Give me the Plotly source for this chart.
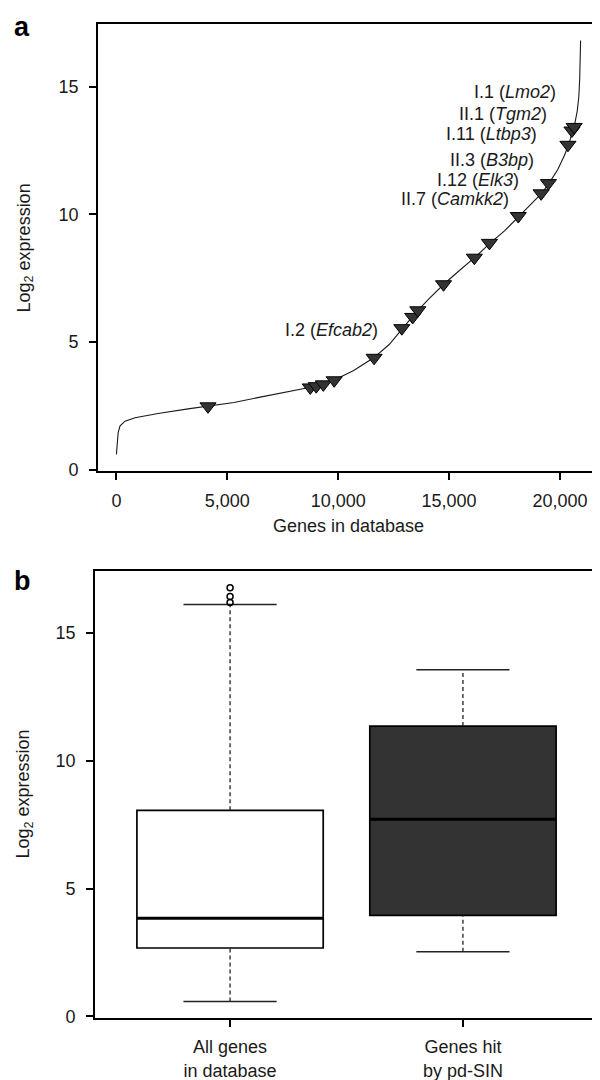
import plotly.graph_objects as go

# ---------------- Panel a: genes ranked by expression ----------------
curve_rank = [1, 30, 80, 165, 390, 840, 1880, 3230, 4130, 5300, 6370, 7500, 8700,
              9800, 10700, 11600, 12300, 12900, 13500, 14100, 14750, 15400, 16150,
              16850, 17500, 18150, 18700, 19150, 19500, 19900, 20200, 20400, 20550,
              20680, 20780, 20850, 20890, 20915, 20930]
curve_expr = [0.6, 1.1, 1.45, 1.72, 1.9, 2.03, 2.2, 2.38, 2.48, 2.63, 2.82, 3.0, 3.22,
              3.5, 3.88, 4.38, 4.9, 5.52, 6.15, 6.7, 7.25, 7.75, 8.3,
              8.87, 9.35, 9.92, 10.4, 10.8, 11.2, 11.75, 12.3, 12.75, 13.2,
              13.6, 14.05, 14.6, 15.3, 16.0, 16.8]

hit_rank = [4130, 8740, 9010, 9330, 9820, 11620, 12870, 13360, 13590, 14750, 16140,
            16820, 18120, 19150, 19480, 20360, 20540, 20640]
hit_expr = [2.48, 3.22, 3.27, 3.34, 3.5, 4.38, 5.54, 5.98, 6.24, 7.26, 8.3,
            8.88, 9.93, 10.82, 11.22, 12.72, 13.28, 13.42]

gene_labels = ["I.1 (<i>Lmo2</i>)", "II.1 (<i>Tgm2</i>)", "I.11 (<i>Ltbp3</i>)",
               "II.3 (<i>B3bp</i>)", "I.12 (<i>Elk3</i>)", "II.7 (<i>Camkk2</i>)",
               "I.2 (<i>Efcab2</i>)"]
label_rank = [19910, 19507, 19058, 18924, 18251, 17803, 11883]
label_expr = [14.77, 13.91, 13.14, 12.13, 11.36, 10.58, 5.47]

x_ticks_a = [0, 5000, 10000, 15000, 20000]
y_ticks = [0, 5, 10, 15]

# ---------------- Panel b: box plots ----------------
box_names = ["All genes<br>in database", "Genes hit<br>by pd-SIN"]
box_pos = [1, 2]
box_low = [0.58, 2.52]
box_q1 = [2.67, 3.95]
box_med = [3.84, 7.71]
box_q3 = [8.06, 11.36]
box_high = [16.12, 13.57]
box_fill = ["white", "#333333"]
outlier_y = [16.2, 16.43, 16.78]

FONT = "Liberation Sans, Arial, Helvetica, sans-serif"
TXT = "#1a1a1a"
BOX_W = 0.8
CAP_W = 0.4

fig = go.Figure()

# Panel a traces
fig.add_trace(go.Scatter(x=curve_rank, y=curve_expr, mode="lines",
                         line=dict(color="#1a1a1a", width=1.1),
                         xaxis="x", yaxis="y", hoverinfo="skip"))
fig.add_trace(go.Scatter(x=hit_rank, y=hit_expr, mode="markers",
                         marker=dict(symbol="triangle-down", size=14, color="#333333",
                                     line=dict(color="black", width=1)),
                         xaxis="x", yaxis="y"))

# Panel b traces
for i, p in enumerate(box_pos):
    fig.add_trace(go.Box(x=[p], q1=[box_q1[i]], median=[box_med[i]], q3=[box_q3[i]],
                         lowerfence=[box_q1[i]], upperfence=[box_q3[i]],
                         width=BOX_W, whiskerwidth=0, boxpoints=False,
                         fillcolor=box_fill[i], line=dict(color="black", width=1.7),
                         xaxis="x2", yaxis="y2", hoverinfo="skip"))
    # thick median
    fig.add_trace(go.Scatter(x=[p - BOX_W / 2, p + BOX_W / 2], y=[box_med[i], box_med[i]],
                             mode="lines", line=dict(color="black", width=3),
                             xaxis="x2", yaxis="y2", hoverinfo="skip"))
    # dashed whiskers
    for a, b in ((box_q3[i], box_high[i]), (box_low[i], box_q1[i])):
        fig.add_trace(go.Scatter(x=[p, p], y=[a, b], mode="lines",
                                 line=dict(color="#222222", width=1.3, dash="4px,3px"),
                                 xaxis="x2", yaxis="y2", hoverinfo="skip"))
    # staples
    for v in (box_low[i], box_high[i]):
        fig.add_trace(go.Scatter(x=[p - CAP_W / 2, p + CAP_W / 2], y=[v, v], mode="lines",
                                 line=dict(color="#222222", width=1.5),
                                 xaxis="x2", yaxis="y2", hoverinfo="skip"))

fig.add_trace(go.Scatter(x=[box_pos[0]] * len(outlier_y), y=outlier_y, mode="markers",
                         marker=dict(symbol="circle-open", size=6, color="black",
                                     line=dict(width=1.5)),
                         xaxis="x2", yaxis="y2"))


def ax(**kw):
    d = dict(showline=True, linecolor="black", linewidth=1.6, mirror=True,
             ticks="outside", ticklen=7, tickwidth=1.5, tickcolor="black",
             showgrid=False, zeroline=False,
             tickfont=dict(family=FONT, size=18, color=TXT))
    d.update(kw)
    return d


H_PLOT = 1003.0
fig.update_layout(
    width=600, height=1080,
    margin=dict(l=87, r=7, t=16, b=61),
    plot_bgcolor="white", paper_bgcolor="white",
    showlegend=False,
    font=dict(family=FONT, size=18, color=TXT),
    xaxis=ax(domain=[3 / 506, 1], range=[-830, 21760], tickvals=x_ticks_a,
             tickformat=",d", anchor="y", ticklabelstandoff=6),
    yaxis=ax(domain=[1 - 451 / H_PLOT, 1], range=[-0.05, 17.45], tickvals=y_ticks,
             anchor="x", ticklabelstandoff=7),
    xaxis2=ax(domain=[0, 505 / 506], range=[0.42, 2.58], tickvals=box_pos,
              ticktext=box_names, anchor="y2", ticklabelstandoff=5),
    yaxis2=ax(domain=[0, 451 / H_PLOT], range=[-0.07, 17.43], tickvals=y_ticks,
              anchor="x2", ticklabelstandoff=7),
)

ann = []
for t, xr, yr in zip(gene_labels, label_rank, label_expr):
    ann.append(dict(text=t, x=xr, y=yr, xref="x", yref="y", xanchor="right",
                    yanchor="middle", showarrow=False,
                    font=dict(family=FONT, size=18, color=TXT)))

ann.append(dict(text="Genes in database", x=0.5, y=0, xref="x domain", yref="y domain",
                yshift=-55, xanchor="center", yanchor="middle", showarrow=False,
                font=dict(family=FONT, size=18, color=TXT)))
ann.append(dict(text="Log<sub>2</sub> expression", x=0, y=0.5, xref="x domain",
                yref="y domain", xshift=-73, textangle=-90, xanchor="center",
                yanchor="middle", showarrow=False,
                font=dict(family=FONT, size=18, color=TXT)))
ann.append(dict(text="Log<sub>2</sub> expression", x=0, y=0.5, xref="x2 domain",
                yref="y2 domain", xshift=-70, textangle=-90, xanchor="center",
                yanchor="middle", showarrow=False,
                font=dict(family=FONT, size=18, color=TXT)))
ann.append(dict(text="<b>a</b>", x=0, y=1, xref="x domain", yref="y domain",
                xshift=-76, yshift=-3, xanchor="center", yanchor="middle",
                showarrow=False, font=dict(family=FONT, size=27, color="black")))
ann.append(dict(text="<b>b</b>", x=0, y=1, xref="x2 domain", yref="y2 domain",
                xshift=-73, yshift=-10, xanchor="center", yanchor="middle",
                showarrow=False, font=dict(family=FONT, size=27, color="black")))
fig.update_layout(annotations=ann)

fig.write_html("out.html")
